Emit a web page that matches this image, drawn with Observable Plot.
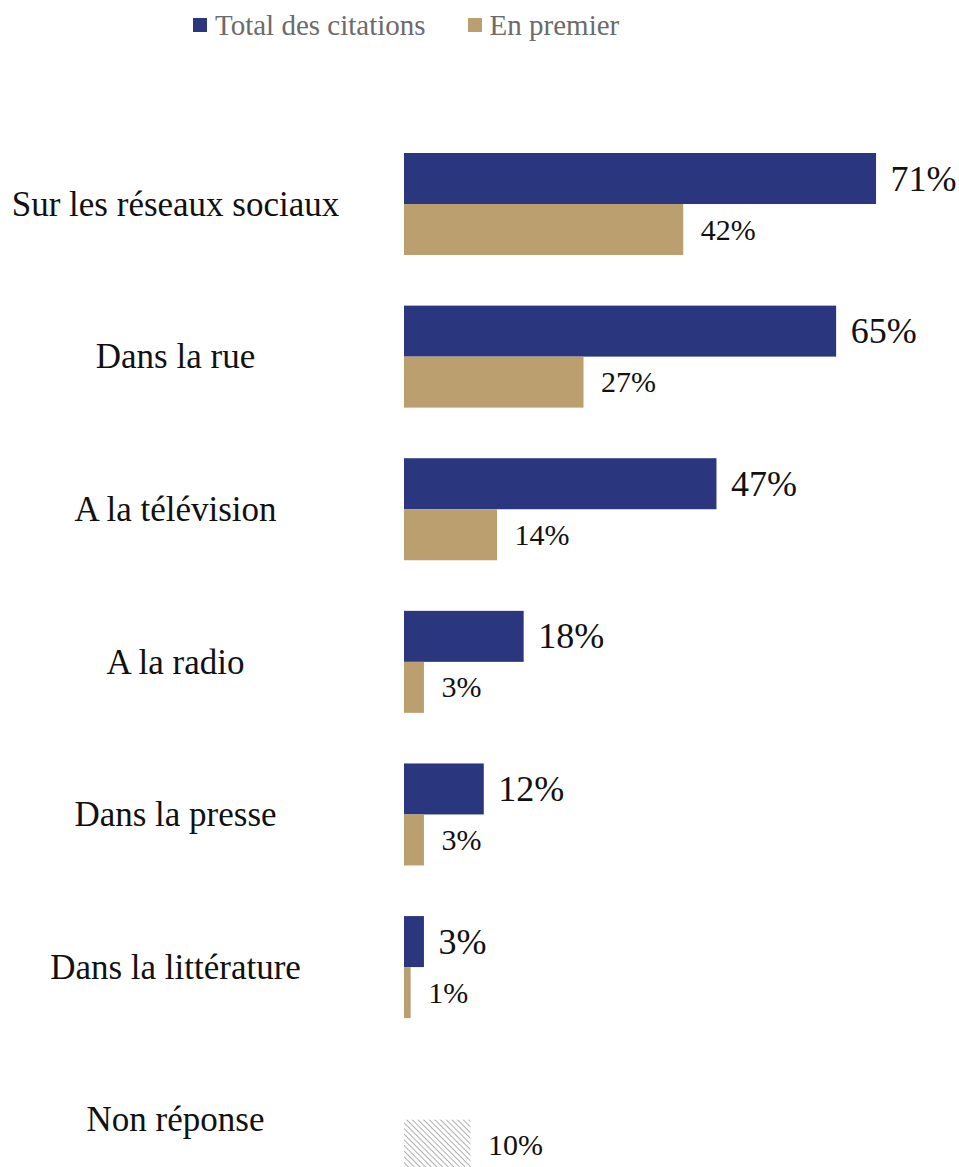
<!DOCTYPE html>
<html><head><meta charset="utf-8">
<script src="https://cdn.jsdelivr.net/npm/d3@7"></script>
<script src="https://cdn.jsdelivr.net/npm/@observablehq/plot@0.6"></script>
<style>
html,body{margin:0;padding:0;background:#fff;overflow:hidden;font-family:"Liberation Serif",serif;}
#legend{height:50px;display:flex;align-items:center;padding-left:193px;font-size:29px;color:#6b6b6b;}
.item{display:flex;align-items:center;margin-right:42px;}
.sw{width:14px;height:14px;display:inline-block;margin-right:8px;}
</style></head><body>
<div id="legend"></div>
<div id="chart"></div>
<script>
const categories = ["Sur les réseaux sociaux","Dans la rue","A la télévision","A la radio","Dans la presse","Dans la littérature","Non réponse"];
const series = ["Total des citations","En premier"];
const totalValues = [71,65,47,18,12,3];
const firstValues = [42,27,14,3,3,1];
const nonResponseLabel = "Non réponse";
const nonResponseValue = 10;
const colors = ["#2a377e","#bc9f6e"];

// legend
const legend = document.getElementById("legend");
series.forEach((s,i)=>{
  const it = document.createElement("div"); it.className="item";
  const sw = document.createElement("span"); sw.className="sw"; sw.style.background=colors[i];
  const tx = document.createElement("span"); tx.textContent=s;
  it.appendChild(sw); it.appendChild(tx); legend.appendChild(it);
});

const rows = [];
totalValues.forEach((v,i)=>{
  rows.push({cat:categories[i], series:series[0], value:v});
  rows.push({cat:categories[i], series:series[1], value:firstValues[i]});
});
const hatchRows = [{cat:nonResponseLabel, series:series[1], value:nonResponseValue}];
const catRows = categories.map(c=>({cat:c}));

const plot = Plot.plot({
  width: 959, height: 1146,
  marginLeft: 404, marginRight: 0, marginTop: 77.7, marginBottom: 0,
  style: {fontFamily:"Liberation Serif, serif", background:"#fff"},
  x: {domain:[0, 83.48], axis:null},
  y: {domain: series, axis:null, padding:0, round:false},
  fy: {domain: categories, axis:null, paddingInner:0.3316, paddingOuter:0.1658, round:false},
  color: {domain: series, range: colors},
  marks: [
    Plot.barX(rows, {x:"value", y:"series", fy:"cat", fill:"series"}),
    Plot.barX(hatchRows, {x:"value", y:"series", fy:"cat", fill:"url(#hatch)"}),
    Plot.text(rows.filter(d=>d.series===series[0]), {x:"value", y:"series", fy:"cat", text:d=>d.value+"%", textAnchor:"start", dx:14, fontSize:36, fill:"#111"}),
    Plot.text(rows.filter(d=>d.series===series[1]).concat(hatchRows), {x:"value", y:"series", fy:"cat", text:d=>d.value+"%", textAnchor:"start", dx:17, fontSize:30, fill:"#111"}),
    Plot.text(catRows, {fy:"cat", text:"cat", frameAnchor:"left", textAnchor:"middle", dx:-229, fontSize:35, fill:"#111"})
  ]
});

const ns = "http://www.w3.org/2000/svg";
const defs = document.createElementNS(ns,"defs");
const pat = document.createElementNS(ns,"pattern");
pat.setAttribute("id","hatch"); pat.setAttribute("patternUnits","userSpaceOnUse");
pat.setAttribute("width","4"); pat.setAttribute("height","4");
pat.setAttribute("patternTransform","rotate(-45)");
const ln = document.createElementNS(ns,"line");
ln.setAttribute("x1","0"); ln.setAttribute("y1","0"); ln.setAttribute("x2","0"); ln.setAttribute("y2","4");
ln.setAttribute("stroke","#9a9a9a"); ln.setAttribute("stroke-width","1.6");
pat.appendChild(ln); defs.appendChild(pat);
plot.insertBefore(defs, plot.firstChild);
document.getElementById("chart").appendChild(plot);
</script>
</body></html>
